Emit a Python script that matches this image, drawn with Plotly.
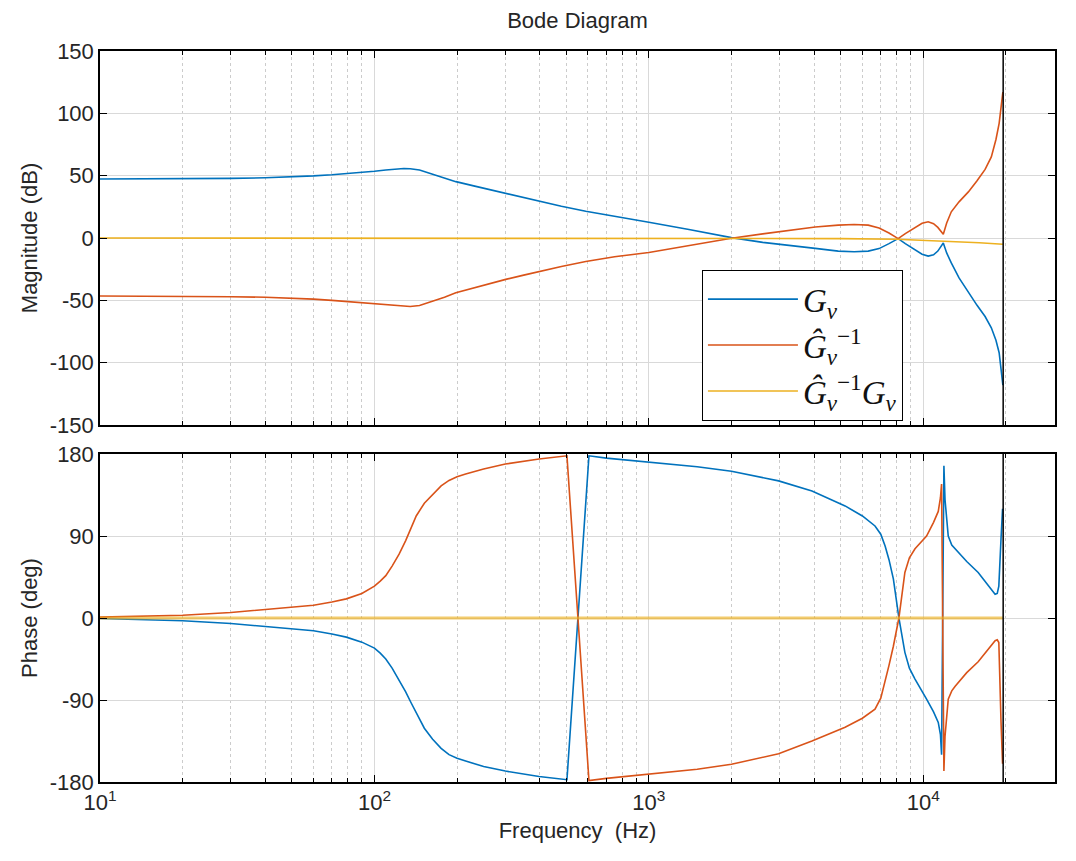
import plotly.graph_objects as go

# ---------------- data ----------------
mag_freq = [10, 15, 20, 30, 40, 50, 60, 70, 80, 90, 100, 110, 120, 128, 135, 146, 163,
            180, 198, 230, 260, 301, 350, 398, 480, 589, 750, 1000, 1400, 2000, 2600,
            3200, 4040, 4900, 5600, 6300, 6900, 7500, 8100, 8600, 9300, 9900, 10420,
            10900, 11300, 11650, 11830, 12170, 12650, 13500, 14600, 15700, 16800,
            17700, 18400, 18900, 19200, 19500]
gv_mag = [47.3, 47.3, 47.5, 47.8, 48.3, 49, 49.8, 50.7, 51.6, 52.6, 53.6, 54.6, 55.4, 55.8,
          55.6, 54.5, 51.2, 48, 45.2, 41.8, 39, 35.6, 32.4, 29.6, 25.5, 21.5, 17.2, 12.6, 6.8,
          0.3, -3.5, -6, -8.3, -10.5, -11, -10.5, -8.5, -4.5, -0.5, -4.5, -9.5, -13,
          -14.5, -13.5, -10.5, -6, -4, -12, -20, -32, -44, -54, -63, -72, -82, -92,
          -105, -118]
ginv_mag = [-46.5, -46.6, -46.8, -47.1, -47.5, -48.2, -49, -50, -51, -52, -53, -53.8, -54.5,
            -54.8, -54.9, -54.2, -51, -47.5, -44, -40, -36.8, -33.2, -29.8, -26.8, -22.8,
            -18.8, -15, -11.6, -6.2, -0.2, 3.3, 6, 8.8, 10.3, 10.8, 10.3, 8, 4, -0.5, 3.5,
            8.5, 11.8, 13, 11.5, 8.5, 4.5, 3, 12, 21, 29, 37, 46, 55, 65, 79, 92, 105, 117]
prod_mag_freq = [10, 1000, 3000, 5000, 8000, 10000, 13000, 16000, 19500]
prod_mag = [0, 0, -0.2, -0.5, -1, -1.8, -2.8, -3.8, -5]

ph_freq = [10, 15, 20, 30, 40, 50, 60, 70, 79, 90, 100, 105, 110, 116, 123, 130, 136, 142,
           152, 163, 175, 187, 200, 215, 250, 300, 398, 503, 605, 700, 1000, 1500, 2000,
           2970, 3930, 5190, 6000, 6670, 7000, 7260, 7500, 7780, 8150, 8570, 8900, 9330,
           10280, 10900, 11340, 11550, 11660, 11890, 12000, 12330, 12700, 13070, 14400,
           15850, 17100, 18270, 18600, 18850, 19200, 19450]
gv_ph = [-0.5, -1.8, -3, -6, -9, -11.5, -14, -17.5, -21, -26.5, -33, -38.5, -45, -55, -68,
         -81, -93, -104, -121, -133, -143, -150, -154, -157, -163, -168, -174, -177.5,
         178, 175.5, 171, 166, 161, 150.5, 139.5, 123, 112, 101, 92, 79, 64, 43, 0, -37.7,
         -55, -67, -89, -103, -114.6, -128, -150, 167, 130, 90, 80, 76, 62, 50, 37, 26, 27,
         35, 87, 120]
ginv_ph = [1, 2, 3, 6, 9, 11.5, 14, 17.5, 21, 27, 35, 40.5, 46.5, 57, 70, 85, 99, 112, 126,
           136, 145, 151, 155, 158, 163.5, 169, 174.5, 178, -178.5, -176, -171, -166,
           -160.5, -149, -135, -120, -110, -100, -88, -70, -52, -31, 0, 50, 66, 76, 90,
           105, 117, 132, 147, -168, -130, -89, -80, -75, -60, -48, -36, -25, -24, -27,
           -114, -160]
prod_ph_freq = [10, 19500]
prod_ph = [0, 0]

nyquist_freq = 19550
mag_limits = [-150, 150]
ph_limits = [-180, 180]

mag_ticks = [-150, -100, -50, 0, 50, 100, 150]
mag_ticktext = ["-150", "-100", "-50", "0", "50", "100", "150"]
ph_ticks = [-180, -90, 0, 90, 180]
ph_ticktext = ["-180", "-90", "0", "90", "180"]
x_ticks = [10, 100, 1000, 10000]
x_ticktext = ["10<sup>1</sup>", "10<sup>2</sup>", "10<sup>3</sup>", "10<sup>4</sup>"]

names = ["<i>G</i><sub><i>v</i></sub>",
         "<i>Ĝ</i><sub><i>v</i></sub><sup>−1</sup>",
         "<i>Ĝ</i><sub><i>v</i></sub><sup>−1</sup><i>G</i><sub><i>v</i></sub>"]

BLUE = "#0072BD"
ORANGE = "#D95319"
YELLOW = "#EDB120"

minor_vals = [k * 10 ** d for d in range(1, 5) for k in range(2, 10) if k * 10 ** d < 30000]

fig = go.Figure()

# magnitude
fig.add_trace(go.Scatter(x=mag_freq, y=gv_mag, mode="lines", name=names[0],
                         line=dict(color=BLUE, width=1.6), xaxis="x", yaxis="y"))
fig.add_trace(go.Scatter(x=mag_freq, y=ginv_mag, mode="lines", name=names[1],
                         line=dict(color=ORANGE, width=1.6), xaxis="x", yaxis="y"))
fig.add_trace(go.Scatter(x=prod_mag_freq, y=prod_mag, mode="lines", name=names[2],
                         line=dict(color=YELLOW, width=1.6), xaxis="x", yaxis="y"))
fig.add_trace(go.Scatter(x=[nyquist_freq, nyquist_freq], y=mag_limits, mode="lines",
                         showlegend=False, line=dict(color="black", width=1.5),
                         xaxis="x", yaxis="y", hoverinfo="skip"))

# phase
fig.add_trace(go.Scatter(x=ph_freq, y=gv_ph, mode="lines", showlegend=False,
                         line=dict(color=BLUE, width=1.6), xaxis="x2", yaxis="y2"))
fig.add_trace(go.Scatter(x=ph_freq, y=ginv_ph, mode="lines", showlegend=False,
                         line=dict(color=ORANGE, width=1.6), xaxis="x2", yaxis="y2"))
fig.add_trace(go.Scatter(x=prod_ph_freq, y=prod_ph, mode="lines", showlegend=False,
                         line=dict(color=YELLOW, width=2.8), opacity=0.65,
                         xaxis="x2", yaxis="y2"))
fig.add_trace(go.Scatter(x=[nyquist_freq, nyquist_freq], y=ph_limits, mode="lines",
                         showlegend=False, line=dict(color="black", width=1.5),
                         xaxis="x2", yaxis="y2", hoverinfo="skip"))

TICKFONT = dict(family="Liberation Sans, Arial, sans-serif", size=22, color="#262626")

def xaxis_cfg(labels, anchor):
    return dict(type="log", range=[1, 4.48], anchor=anchor,
                tickvals=x_ticks, ticktext=x_ticktext, showticklabels=labels,
                ticks="inside", ticklen=7, tickwidth=1.2, tickcolor="black",
                showline=True, linecolor="black", linewidth=1.5, mirror="allticks",
                showgrid=True, gridcolor="#D9D9D9", gridwidth=1, zeroline=False,
                tickfont=TICKFONT,
                minor=dict(tickvals=minor_vals, ticks="inside", ticklen=4,
                           tickcolor="black", tickwidth=1,
                           showgrid=True, gridcolor="#CCCCCC", griddash="dot", gridwidth=1))

def yaxis_cfg(rng, ticks, ticktext, domain, anchor, title):
    return dict(range=rng, tickvals=ticks, ticktext=ticktext, domain=domain, anchor=anchor,
                ticks="inside", ticklen=7, tickwidth=1.2, tickcolor="black",
                showline=True, linecolor="black", linewidth=1.5, mirror="allticks",
                showgrid=True, gridcolor="#D9D9D9", gridwidth=1, zeroline=False,
                tickfont=TICKFONT,
                title=dict(text=title, font=TICKFONT, standoff=6))

# page body has an 8px margin: figure sits at (8, 8)
OFF = 8
W, H = 1076 - 2 * OFF, 861 - 2 * OFF
plot_left, plot_right, plot_top, plot_bottom = 100, 1057, 51, 782
ml = plot_left - OFF
mr = W + OFF - plot_right
mt = plot_top - OFF
mb = H + OFF - plot_bottom
ph = plot_bottom - plot_top
pw = plot_right - plot_left
top_domain = [(plot_bottom - 425) / ph, 1.0]
bot_domain = [0.0, (plot_bottom - 454) / ph]

fig.update_layout(
    width=W, height=H,
    margin=dict(l=ml, r=mr, t=mt, b=mb),
    paper_bgcolor="white", plot_bgcolor="white",
    title=dict(text="Bode Diagram", x=0.5, xref="paper", xanchor="center",
               y=1 - (20 - OFF) / H, yref="container", yanchor="middle",
               font=dict(family="Liberation Sans, Arial, sans-serif", size=22, color="#262626")),
    xaxis=xaxis_cfg(False, "y"),
    xaxis2=dict(xaxis_cfg(True, "y2"), matches="x",
                title=dict(text="Frequency  (Hz)", font=TICKFONT, standoff=8)),
    yaxis=yaxis_cfg(mag_limits, mag_ticks, mag_ticktext, top_domain, "x", "Magnitude (dB)"),
    yaxis2=yaxis_cfg(ph_limits, ph_ticks, ph_ticktext, bot_domain, "x2", "Phase (deg)"),
    legend=dict(x=(703 - plot_left) / pw, y=(plot_bottom - 270) / ph,
                xanchor="left", yanchor="top",
                bgcolor="white", bordercolor="black", borderwidth=1.2,
                font=dict(family="Liberation Serif, DejaVu Serif, serif", size=33, color="#111111"),
                itemwidth=90, tracegroupgap=0),
    showlegend=True,
)

fig.write_html("out.html")
